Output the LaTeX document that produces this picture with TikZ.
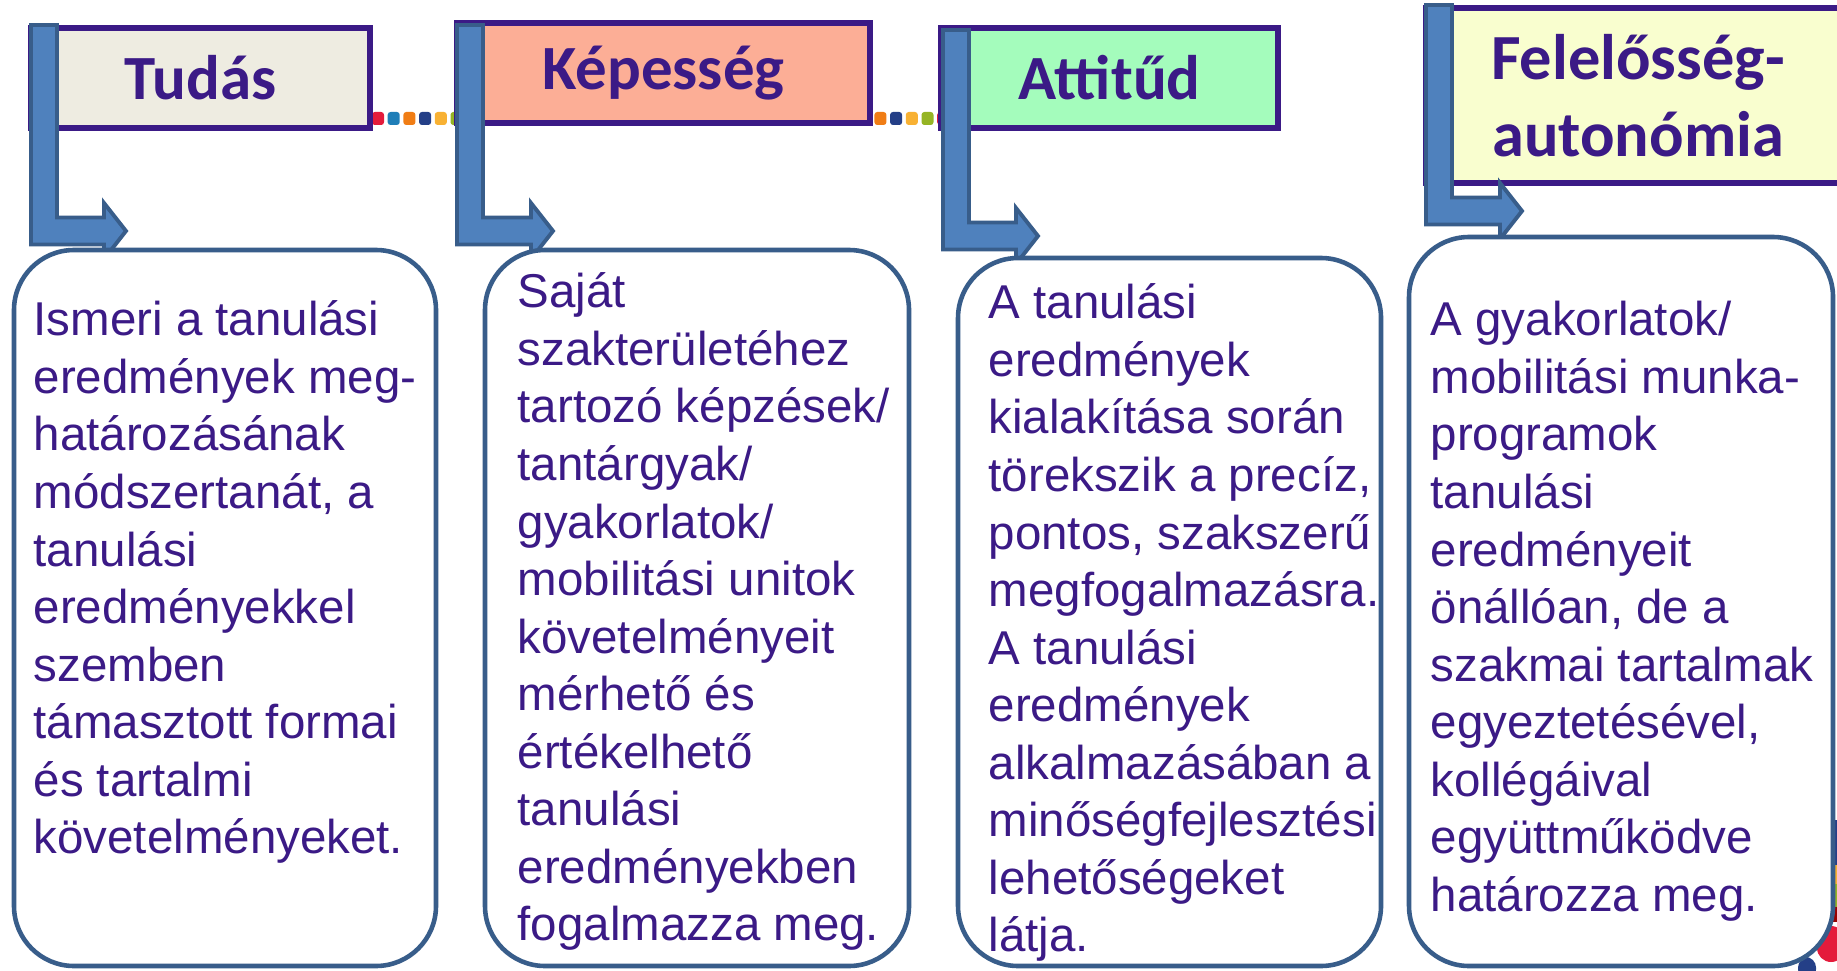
\documentclass[tikz,border=0pt]{standalone}
\usepackage{fontspec}
\setmainfont{Liberation Sans}
\newfontfamily\headfont{Carlito}

\definecolor{inkpurple}{HTML}{3B1A86}
\definecolor{arrowblue}{HTML}{4F81BD}
\definecolor{arrowedge}{HTML}{385D8A}
\definecolor{tudasfill}{HTML}{EEECE1}
\definecolor{kepfill}{HTML}{FCAE96}
\definecolor{attfill}{HTML}{A4FCBC}
\definecolor{felfill}{HTML}{F9FECF}
\definecolor{dot0}{HTML}{E41B3B}
\definecolor{dot1}{HTML}{1F7EB8}
\definecolor{dot2}{HTML}{F07D15}
\definecolor{dot3}{HTML}{243F87}
\definecolor{dot4}{HTML}{F8B133}
\definecolor{dot5}{HTML}{95B424}

% bent block arrow: left, top, middle of arm, tip
\newcommand{\bentarrow}[4]{%
  \filldraw[bentarr] (#1,#2) -- (#1+26,#2) -- (#1+26,#3-13.5) -- (#4-22,#3-13.5)
    -- (#4-22,#3-28) -- (#4,#3) -- (#4-22,#3+28) -- (#4-22,#3+13.5)
    -- (#1,#3+13.5) -- cycle;}
\newcommand{\topstrut}{\rule{0pt}{12pt}}

\begin{document}
\begin{tikzpicture}[x=0.01cm, y=-0.01cm,
    headbox/.style={draw=inkpurple, line width=1.7pt, text=inkpurple, inner sep=0pt,
      align=center, font=\headfont\bfseries\fontsize{17.9}{21.6}\selectfont},
    bodybox/.style={draw=arrowedge, line width=1.3pt, fill=white, rounded corners=0.6cm},
    bodytext/.style={anchor=north west, inner sep=0pt, align=left, text=inkpurple,
      font=\fontsize{13.5}{16.36}\selectfont},
    bentarr/.style={fill=arrowblue, draw=arrowedge, line width=1.1pt}]
  \useasboundingbox[fill=white] (0,0) rectangle (1837,970);

  % coloured dotted line behind the titles
  \foreach \i [evaluate=\i as \c using {int(mod(\i,6))}] in {0,...,57}
    \fill[dot\c, rounded corners=0.8pt] (372+\i*15.7,112) rectangle ++(12,13);

  % logo remains at the bottom right
  \fill[dot3] (1833,820) rectangle (1840,865);
  \fill[dot4] (1833,865) rectangle (1840,884);
  \fill[dot5] (1833,884) rectangle (1840,907);
  \fill[red!60!black] (1833,907) rectangle (1840,922);
  \fill[dot0, rounded corners=4pt] (1817,926) rectangle (1845,962);
  \fill[dot3, rounded corners=3pt] (1798,957) rectangle (1816,980);

  % titles
  \node[headbox, fill=tudasfill, minimum width=3.39cm, minimum height=1cm]
    (tudas) at (200.5,78) {Tudás};
  \node[headbox, fill=kepfill, minimum width=4.13cm, minimum height=1cm]
    (kepesseg) at (663.5,73) {Képesség};
  \node[headbox, fill=attfill, minimum width=3.37cm, minimum height=1cm]
    (attitud) at (1109.5,78) {Attitűd};
  \node[headbox, fill=felfill, minimum width=4.24cm, minimum height=1.75cm,
    font=\headfont\bfseries\fontsize{18.3}{21.8}\selectfont]
    (felelosseg) at (1638,95.5) {Felelősség-\\autonómia};

  \bentarrow{31}{25}{231}{126}
  \bentarrow{457}{25}{231}{553}
  \bentarrow{943}{30}{236}{1038}
  \bentarrow{1426}{5}{211}{1522}

  % boxes with the descriptions
  \draw[bodybox] (14,250) rectangle (436,966);
  \draw[bodybox] (485,250) rectangle (909,966);
  \draw[bodybox] (958,258) rectangle (1381,966);
  \draw[bodybox] (1409,237) rectangle (1833,966);

  \node[bodytext] (tudastext) at (33,293) {\topstrut Ismeri a tanulási\\
    eredmények meg-\\határozásának\\módszertanát, a\\tanulási\\eredményekkel\\
    szemben\\támasztott formai\\és tartalmi\\követelményeket.};
  \node[bodytext] (kepessegtext) at (517,265) {\topstrut Saját\\szakterületéhez\\
    tartozó képzések/\\tantárgyak/\\gyakorlatok/\\mobilitási unitok\\
    követelményeit\\mérhető és\\értékelhető\\tanulási\\eredményekben\\
    fogalmazza meg.};
  \node[bodytext] (attitudtext) at (988,276) {\topstrut A tanulási\\eredmények\\
    kialakítása során\\törekszik a precíz,\\pontos, szakszerű\\
    megfogalmazásra.\\A tanulási\\eredmények\\alkalmazásában a\\
    minőségfejlesztési\\lehetőségeket\\látja.};
  \node[bodytext] (felelossegtext) at (1430,293) {\topstrut A gyakorlatok/\\
    mobilitási munka-\\programok\\tanulási\\eredményeit\\önállóan, de a\\
    szakmai tartalmak\\egyeztetésével,\\kollégáival\\együttműködve\\
    határozza meg.};
\end{tikzpicture}
\end{document}
